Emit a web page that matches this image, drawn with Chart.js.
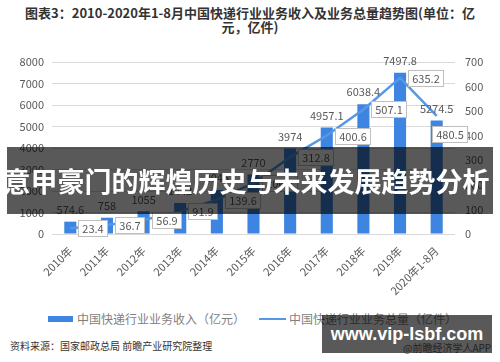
<!DOCTYPE html>
<html>
<head>
<meta charset="utf-8">
<script src="https://cdn.jsdelivr.net/npm/chart.js@4.4.0/dist/chart.umd.min.js"></script>
<style>
  body { margin: 0; background: #fff; font-family: "Noto Sans CJK SC", sans-serif; }
  #wrap { position: relative; width: 500px; height: 362px; overflow: hidden; }
  #title { position: absolute; left: 0; top: 6px; width: 500px; text-align: center;
           font-size: 13px; font-weight: bold; color: #333; line-height: 14px; }
  #chartBox { position: absolute; left: 0; top: 40px; width: 500px; height: 262px; }
  #legend { position: absolute; top: 308px; left: 48px; font-size: 12px; color: #7f7f7f; white-space: nowrap; }
  #legend span { display: inline-block; vertical-align: middle; }
  .sw-bar { width: 25px; height: 6px; background: #3d85e0; margin-right: 4px; }
  .sw-line { width: 27px; height: 2px; background: #5599e6; margin: 0 3px 0 14px; }
  #source { position: absolute; left: 10px; top: 338px; font-size: 10px; color: #333; }
  #app { position: absolute; left: 403px; top: 340px; font-size: 10px; color: #666; }
  #banner { position: absolute; left: 7px; top: 147px; width: 486px; height: 67px; background: rgba(0,0,0,0.65); }
  #bannerText { position: absolute; left: 0; top: 164px; width: 493px; text-align: center;
                font-size: 27px; font-weight: bold; color: #fff; line-height: 34px; white-space: nowrap; }
  #site { position: absolute; left: 322px; top: 315px; width: 170px; height: 38px; background: rgba(0,0,0,0.65);
          color: #fff; font-family: "Liberation Sans", Arial, sans-serif; font-weight: bold; font-size: 18px;
          text-align: center; line-height: 38px; white-space: nowrap; }
</style>
</head>
<body>
<div id="wrap">
  <div id="title">图表3：2010-2020年1-8月中国快递行业业务收入及业务总量趋势图(单位：亿<br>元，亿件)</div>
  <div id="chartBox"><canvas id="myChart" width="500" height="262"></canvas></div>
  <div id="legend"><span class="sw-bar"></span><span>中国快递行业业务收入（亿元）</span><span class="sw-line"></span><span>中国快递行业业务总量（亿件）</span></div>
  <div id="source">资料来源：国家邮政总局 前瞻产业研究院整理</div>
  <div id="app">@前瞻经济学人APP</div>
  <div id="banner"></div>
  <div id="bannerText">意甲豪门的辉煌历史与未来发展趋势分析</div>
  <div id="site">www.vip-lsbf.com</div>
</div>
<script>
var years = ["2010年","2011年","2012年","2013年","2014年","2015年","2016年","2017年","2018年","2019年","2020年1-8月"];
var revenue = [574.6, 758, 1055, 1442, 2045, 2770, 3974, 4957.1, 6038.4, 7497.8, 5274.5];
var volume = [23.4, 36.7, 56.9, 91.9, 139.6, 206.7, 312.8, 400.6, 507.1, 635.2, 480.5];
var leftTicks = [0, 8000, 1000];
var rightTicks = [0, 700, 100];

var font = '"Noto Sans CJK SC", sans-serif';

// value labels: plain text over bars, boxed text beside line points
const valueLabels = {
    id: 'valueLabels',
    afterDatasetsDraw(chart) {
        const ctx = chart.ctx;
        ctx.save();
        ctx.font = '11px ' + font;
        ctx.textAlign = 'center';
        ctx.textBaseline = 'middle';
        ctx.fillStyle = '#595959';
        chart.getDatasetMeta(0).data.forEach((bar, i) => {
            ctx.fillText(String(revenue[i]), bar.x, bar.y - 12);
        });
        const pts = chart.getDatasetMeta(1).data;
        pts.forEach((pt, i) => {
            const txt = volume[i].toFixed(1);
            const w = Math.round(ctx.measureText(txt).width) + 8, h = 16;
            let x = Math.round(pt.x + 8), y = Math.round(pt.y - h / 2);
            if (i === pts.length - 1) { x = Math.round(pt.x - 5); y = Math.round(pt.y + 10); }
            ctx.fillStyle = '#fff';
            ctx.fillRect(x, y, w, h);
            ctx.strokeStyle = '#bfbfbf';
            ctx.lineWidth = 1;
            ctx.strokeRect(x + 0.5, y + 0.5, w, h);
            ctx.fillStyle = '#595959';
            ctx.fillText(txt, x + w / 2 + 0.5, y + h / 2 + 1);
        });
        ctx.restore();
    }
};

const config = {
    type: 'bar',
    data: {
        labels: years,
        datasets: [{
            label: '中国快递行业业务收入（亿元）',
            data: revenue,
            backgroundColor: '#3d85e0',
            yAxisID: 'y',
            categoryPercentage: 1,
            barPercentage: 0.33,
            order: 2
        }, {
            type: 'line',
            label: '中国快递行业业务总量（亿件）',
            data: volume,
            borderColor: '#5599e6',
            borderWidth: 2.5,
            pointRadius: 0,
            tension: 0,
            yAxisID: 'y1',
            order: 1
        }]
    },
    options: {
        responsive: false,
        devicePixelRatio: 1,
        animation: false,
        layout: { padding: { top: 22, left: 0, right: 0, bottom: 0 } },
        plugins: {
            legend: { display: false },
            tooltip: { enabled: false }
        },
        scales: {
            x: {
                grid: { display: false },
                border: { display: false },
                ticks: {
                    color: '#595959',
                    font: { size: 11, family: font },
                    maxRotation: 45,
                    minRotation: 45,
                    padding: 2
                },
                afterFit: function (s) { s.height = 68; }
            },
            y: {
                position: 'left',
                min: leftTicks[0], max: leftTicks[1],
                ticks: { stepSize: leftTicks[2], color: '#595959', font: { size: 11, family: font }, padding: 8,
                         callback: function (v) { return String(v); } },
                grid: { color: '#d9d9d9', drawTicks: false },
                border: { display: false },
                afterFit: function (s) { s.width = 52; }
            },
            y1: {
                position: 'right',
                min: rightTicks[0], max: rightTicks[1],
                ticks: { stepSize: rightTicks[2], color: '#595959', font: { size: 11, family: font }, padding: 10,
                         callback: function (v) { return String(v); } },
                grid: { display: false, drawTicks: false },
                border: { display: false },
                afterFit: function (s) { s.width = 45; }
            }
        }
    },
    plugins: [valueLabels]
};
new Chart(document.getElementById("myChart"), config);
</script>
</body>
</html>
